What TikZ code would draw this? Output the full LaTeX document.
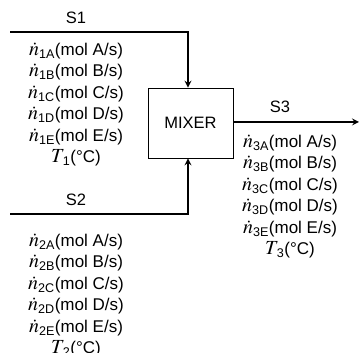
\documentclass[tikz,border=0pt]{standalone}
\usepackage{amsmath}
\usepackage{mathptmx}
\usepackage[no-math]{fontspec}
\setmainfont{Liberation Sans}
\usetikzlibrary{arrows, positioning}
\tikzstyle{stream}    = [line width=2pt,->,>=stealth]
\tikzstyle{unit}      = [draw, line width=0.9pt, minimum width=85pt, minimum height=70pt, inner sep=0pt]
\tikzstyle{streamlbl} = [inner sep=0pt, font=\fontsize{16.5}{18}\selectfont]
\tikzstyle{flows}     = [inner sep=0pt, align=center, font=\fontsize{17}{21.5}\selectfont]
\newcommand{\bigsym}[1]{{\fontsize{20}{21.5}\selectfont$#1$}}
\newcommand{\fl}[2]{\bigsym{\dot{n}}$_{\text{#1#2}}$(mol #2/s)}
\newcommand{\tmp}[1]{\bigsym{T}\kern-2pt$_{\text{#1}}$(°C)}

\begin{document}
\begin{tikzpicture}[x=1pt,y=1pt]
    \useasboundingbox (0,0) rectangle (359,353);

    \node[unit] (MIX) at (190.5,230) {\fontsize{16.5}{18}\selectfont MIXER};

    \coordinate (S1start) at (10,321);
    \coordinate (S1turn)  at (188,321);
    \coordinate (S2start) at (10,139);
    \coordinate (S2turn)  at (188,139);
    \coordinate (S3end)   at (359,231);

    \draw[stream] (S1start) -- (S1turn) -- (MIX.north -| S1turn);
    \draw[stream] (S2start) -- (S2turn) -- (MIX.south -| S2turn);
    \draw[stream] (MIX.east |- S3end) -- (S3end);

    \node[streamlbl] (S1) at (76,335) {S1};
    \node[streamlbl] (S2) at (76,153) {S2};
    \node[streamlbl] (S3) at (280,246) {S3};

    \node[flows] (F1) at (76,248.5) {\fl{1}{A}\\\fl{1}{B}\\\fl{1}{C}\\\fl{1}{D}\\\fl{1}{E}\\\tmp{1}};
    \node[flows] (F2) at (76,57.5) {\fl{2}{A}\\\fl{2}{B}\\\fl{2}{C}\\\fl{2}{D}\\\fl{2}{E}\\\tmp{2}};
    \node[flows] (F3) at (290,156.5) {\fl{3}{A}\\\fl{3}{B}\\\fl{3}{C}\\\fl{3}{D}\\\fl{3}{E}\\\tmp{3}};

\end{tikzpicture}
\end{document}
